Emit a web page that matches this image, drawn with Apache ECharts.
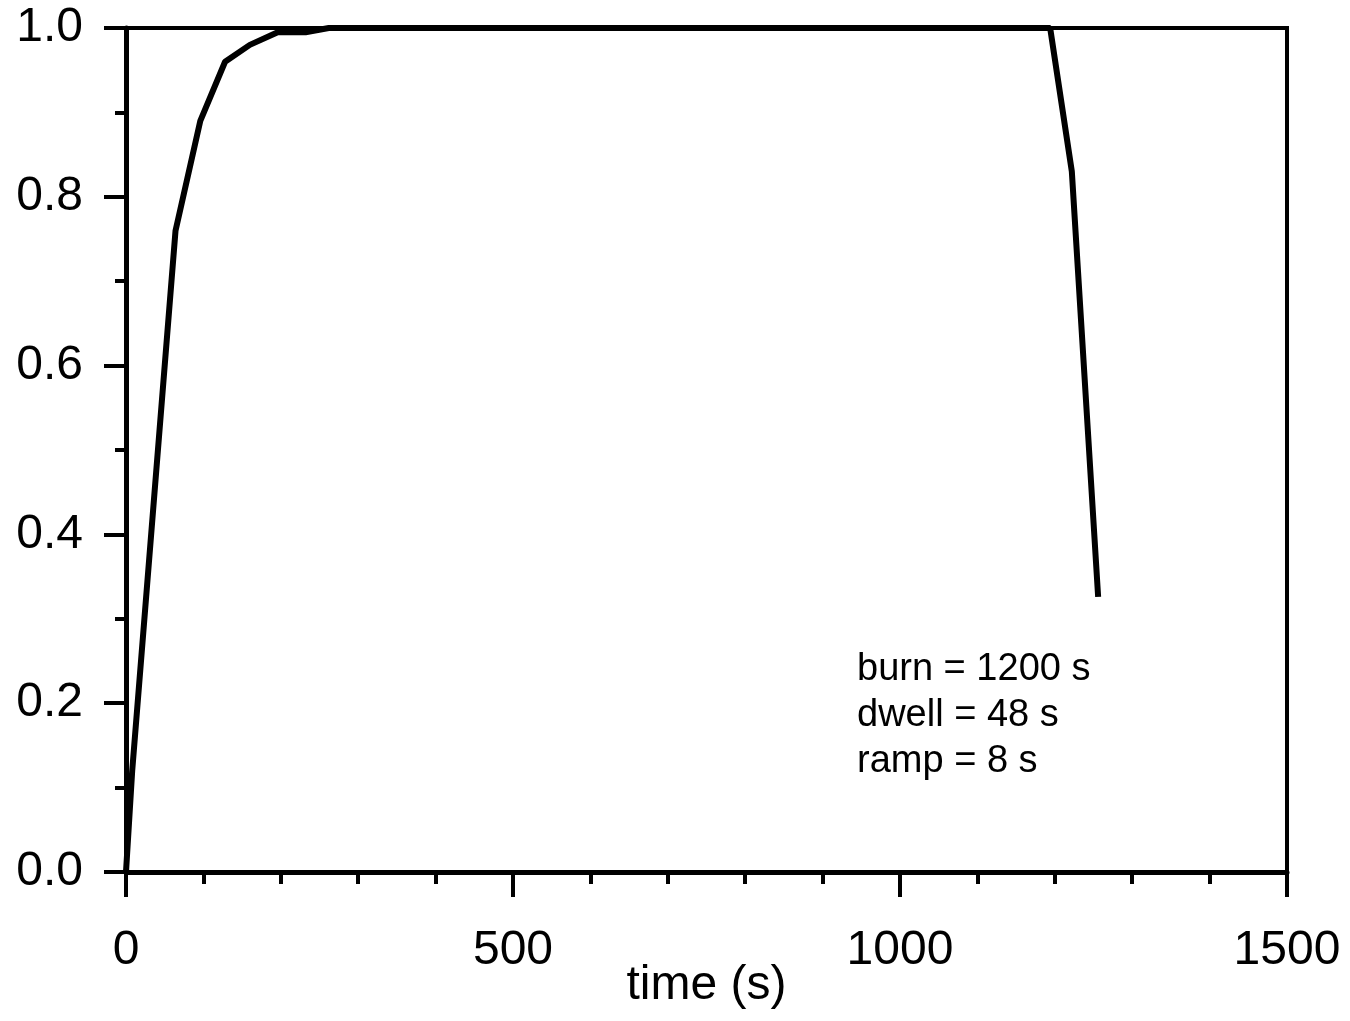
<!DOCTYPE html>
<html>
<head>
<meta charset="utf-8">
<style>
  html, body { margin: 0; padding: 0; background: #fff; }
  #chart-container { width: 1350px; height: 1021px; }
</style>
<script src="https://cdn.jsdelivr.net/npm/echarts@6/dist/echarts.min.js"></script>
</head>
<body>
<div id="chart-container"></div>
<script>
// time (s) and normalised value
var times = [0, 8, 64, 96, 128, 160, 196, 232, 262, 1194, 1222, 1256];
var values = [0, 0.12, 0.76, 0.89, 0.96, 0.98, 0.995, 0.995, 1.0, 1.0, 0.83, 0.326];
var notes = ['burn = 1200 s', 'dwell = 48 s', 'ramp = 8 s'];

var dom = document.getElementById('chart-container');
var myChart = echarts.init(dom, null, { renderer: 'canvas' });

var font = 'Liberation Sans, Arial, Helvetica, sans-serif';
var points = times.map(function (t, i) { return [t, values[i]]; });

var option = {
  animation: false,
  backgroundColor: '#fff',
  grid: {
    left: 126,
    right: 63,
    top: 28,
    bottom: 149,
    outerBoundsMode: 'none',
    containLabel: false,
    show: true,
    borderColor: '#000',
    borderWidth: 4
  },
  xAxis: {
    type: 'value',
    min: 0,
    max: 1500,
    interval: 500,
    name: 'time (s)',
    nameLocation: 'middle',
    nameGap: 90,
    nameMoveOverlap: false,
    nameTextStyle: { color: '#000', fontSize: 48, fontFamily: font },
    axisLine: { onZero: false, lineStyle: { color: '#000', width: 5 } },
    axisTick: { length: 25, lineStyle: { color: '#000', width: 4 } },
    minorTick: { show: true, splitNumber: 5, length: 12, lineStyle: { color: '#000', width: 4 } },
    splitLine: { show: false },
    axisLabel: {
      color: '#000', fontSize: 48, fontFamily: font, margin: 55,
      formatter: function (v) { return String(v); }
    }
  },
  yAxis: {
    type: 'value',
    min: 0,
    max: 1,
    interval: 0.2,
    axisLine: { onZero: false, lineStyle: { color: '#000', width: 5 } },
    axisTick: { length: 22, lineStyle: { color: '#000', width: 4 } },
    minorTick: { show: true, splitNumber: 2, length: 11, lineStyle: { color: '#000', width: 4 } },
    splitLine: { show: false },
    axisLabel: {
      color: '#000', fontSize: 48, fontFamily: font, margin: 43,
      formatter: function (v) { return v.toFixed(1); }
    }
  },
  series: [
    {
      type: 'line',
      data: points,
      showSymbol: false,
      symbol: 'none',
      lineStyle: { color: '#000', width: 6 }
    }
  ],
  graphic: [
    {
      type: 'text',
      left: 857,
      top: 647,
      style: {
        text: notes.join('\n'),
        fill: '#000',
        font: '38px ' + font,
        lineHeight: 46
      }
    }
  ]
};

myChart.setOption(option);
window.addEventListener('resize', myChart.resize);
</script>
</body>
</html>
